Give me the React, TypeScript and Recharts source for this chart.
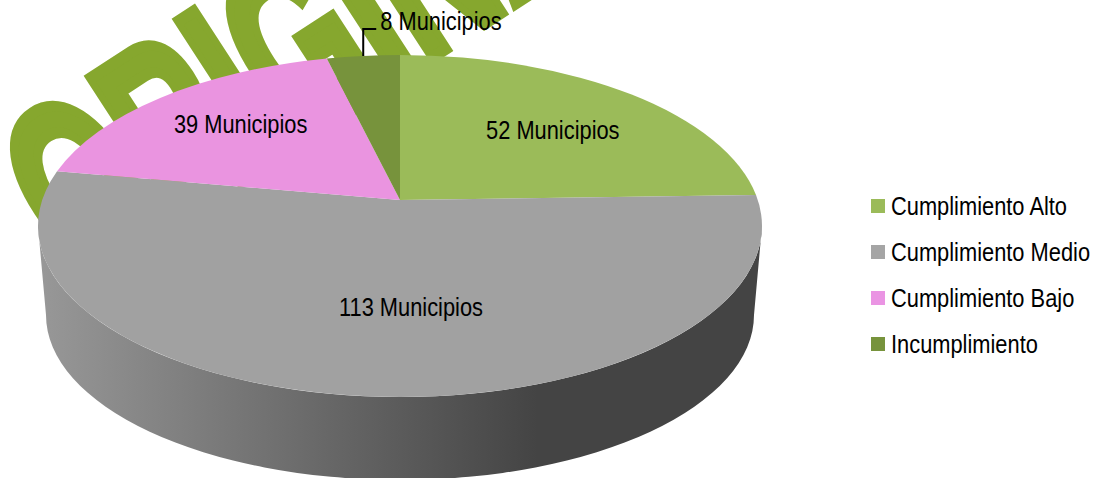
import React from "react";
import { PieChart, Pie, Legend } from "recharts";

const categories = ["Cumplimiento Alto", "Cumplimiento Medio", "Cumplimiento Bajo", "Incumplimiento"];
const values = [52, 113, 39, 8];
const colors = ["#9bbb59", "#a1a1a1", "#ea94e0", "#77933c"];
const legendColors = ["#9bbb59", "#a5a5a5", "#ea94e3", "#77933c"];
const unit = "Municipios";
const watermark = "ORIGINAL";

const data = categories.map((name, i) => ({ name, value: values[i], fill: colors[i], swatch: legendColors[i] }));

const FONT = '"Liberation Sans", sans-serif';
const FONT_SIZE = 26;
const NARROW = 0.84;
const RY_RATIO = 171 / 362;
const APEX_LIFT = 26;
const BOTTOM = { dy: 89, rxDelta: 8, ry: 165 };
const LABEL_DEPTH = 0.68;
const LABEL_OFFSETS = [
  { dx: 0, dy: 3 },
  { dx: 0, dy: 0 },
  { dx: 1, dy: -6 },
  { dx: 0, dy: 0 },
];

const t = APEX_LIFT / (362 * RY_RATIO);
const a = t / (1 + Math.sqrt(1 - t * t));
const k = (1 - a) / (1 + a);
const rad = (d: number) => (d * Math.PI) / 180;

// clockwise-from-top angle on the flat circle -> parameter on the tilted rim
const rimParam = (theta: number) => {
  const h = rad(theta) / 2;
  return (2 * Math.atan2(k * Math.sin(h), Math.cos(h)) * 180) / Math.PI;
};
const rimPoint = (cx: number, cy: number, rx: number, ry: number, phi: number) => ({
  x: cx + rx * Math.sin(rad(phi)),
  y: cy - ry * Math.cos(rad(phi)),
});

function Slice3D(props: any) {
  const { cx, cy, outerRadius, startAngle, endAngle, fill } = props;
  const rx = outerRadius;
  const ry = outerRadius * RY_RATIO;
  const f0 = rimParam(90 - startAngle);
  const f1 = rimParam(90 - endAngle);
  const p0 = rimPoint(cx, cy, rx, ry, f0);
  const p1 = rimPoint(cx, cy, rx, ry, f1);
  const large = f1 - f0 > 180 ? 1 : 0;
  const top = `M${cx},${cy - APEX_LIFT} L${p0.x},${p0.y} A${rx},${ry} 0 ${large} 1 ${p1.x},${p1.y} Z`;
  let wall = null;
  const w0 = Math.max(f0, 90);
  const w1 = Math.min(f1, 270);
  if (w1 > w0) {
    const bx = rx - BOTTOM.rxDelta;
    const by = cy + BOTTOM.dy;
    const a0 = rimPoint(cx, cy, rx, ry, w0);
    const a1 = rimPoint(cx, cy, rx, ry, w1);
    const b0 = rimPoint(cx, by, bx, BOTTOM.ry, w0);
    const b1 = rimPoint(cx, by, bx, BOTTOM.ry, w1);
    wall = (
      <path
        d={`M${a0.x},${a0.y} A${rx},${ry} 0 0 1 ${a1.x},${a1.y} L${b1.x},${b1.y} A${bx},${BOTTOM.ry} 0 0 0 ${b0.x},${b0.y} Z`}
        fill="url(#wallShade)"
      />
    );
  }
  return (
    <g>
      {wall}
      <path d={top} fill={fill} />
    </g>
  );
}

function NarrowText({ x, y, anchor, children }: any) {
  return (
    <text
      transform={`translate(${x} ${y}) scale(${NARROW} 1)`}
      textAnchor={anchor}
      dominantBaseline="central"
      fontFamily={FONT}
      fontSize={FONT_SIZE}
      fill="#000"
    >
      {children}
    </text>
  );
}

function SliceLabel(props: any) {
  const { cx, cy, outerRadius, midAngle, index, value } = props;
  const rx = outerRadius;
  const ry = outerRadius * RY_RATIO;
  const rim = rimPoint(cx, cy, rx, ry, rimParam(((90 - midAngle) % 360 + 360) % 360));
  const text = `${value} ${unit}`;
  if (index === 3) {
    const up = rim.y - 27;
    return (
      <g>
        <path d={`M${rim.x},${rim.y} V${up} H${rim.x + 13}`} fill="none" stroke="#000" strokeWidth={2} />
        <NarrowText x={rim.x + 17} y={up - 8} anchor="start">{text}</NarrowText>
      </g>
    );
  }
  const ax = cx;
  const ay = cy - APEX_LIFT;
  const off = LABEL_OFFSETS[index];
  const x = index === 1 ? cx + 11 : ax + (rim.x - ax) * LABEL_DEPTH + off.dx;
  const y = index === 1 ? cy + 81 : ay + (rim.y - ay) * LABEL_DEPTH + off.dy;
  return <NarrowText x={x} y={y} anchor="middle">{text}</NarrowText>;
}

function LegendBox() {
  return (
    <div style={{ fontFamily: FONT, fontSize: FONT_SIZE, color: "#000" }}>
      {data.map((d) => (
        <div key={d.name} style={{ display: "flex", alignItems: "center", height: 46, whiteSpace: "nowrap" }}>
          <span style={{ width: 14, height: 14, background: d.swatch, marginRight: 6, flex: "none" }} />
          <span style={{ display: "inline-block", transform: `scaleX(${NARROW})`, transformOrigin: "left center" }}>{d.name}</span>
        </div>
      ))}
    </div>
  );
}

export default function App() {
  return (
    <div style={{ position: "absolute", left: 0, top: 0 }}>
      <PieChart width={1099} height={478} margin={{ top: 0, right: 0, bottom: 0, left: 0 }}>
        <defs>
          <linearGradient id="wallShade" x1="0" y1="0" x2="1" y2="0">
            <stop offset="0" stopColor="#989898" />
            <stop offset="0.69" stopColor="#444444" />
            <stop offset="1" stopColor="#444444" />
          </linearGradient>
        </defs>
        <text
          transform="translate(79 287) rotate(-33) scale(1 1.69)"
          fontFamily={FONT}
          fontWeight={700}
          fontSize={145}
          fill="#86a72e"
          stroke="#86a72e"
          strokeWidth={7}
        >
          {watermark}
        </text>
        <Pie
          data={data}
          dataKey="value"
          nameKey="name"
          cx={400}
          cy={226}
          outerRadius={362}
          startAngle={90}
          endAngle={-270}
          stroke="none"
          isAnimationActive={false}
          shape={Slice3D}
          label={SliceLabel}
          labelLine={false}
        />
        <Legend
          layout="vertical"
          content={LegendBox}
          wrapperStyle={{ position: "absolute", left: 871, top: 183, width: 228 }}
        />
      </PieChart>
    </div>
  );
}
